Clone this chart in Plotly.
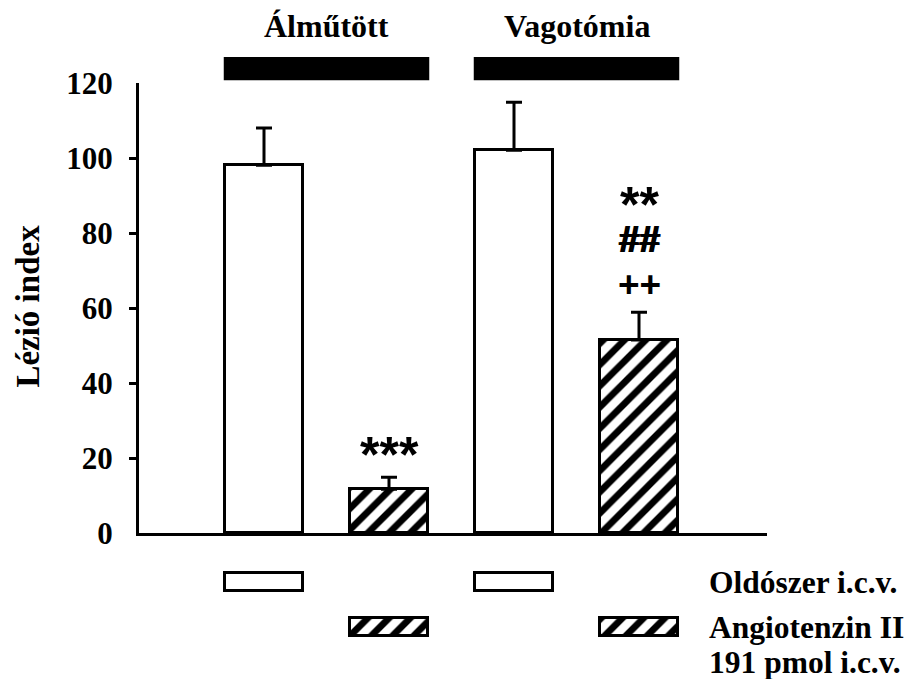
import plotly.graph_objects as go

# ---- data ----
groups = ["Álműtött", "Vagotómia"]
treatments = ["Oldószer i.c.v.", "Angiotenzin II", "191 pmol i.c.v."]
bar_pos = [1, 2, 3, 4]
bar_group = [0, 0, 1, 1]
bar_treatment = [0, 1, 0, 1]          # 0 = vehicle, 1 = angiotensin II
means = [98.1, 11.7, 102.1, 51.5]
sem = [9.9, 3.2, 12.8, 7.4]
sig_marks = [[], ["***"], [], ["**", "##", "++"]]
y_ticks = [0, 20, 40, 60, 80, 100, 120]

BAR_W = 0.624
serif = "Liberation Serif"
sans = "Liberation Sans"
patterns = ["" if t == 0 else "/" for t in bar_treatment]
pattern_style = dict(shape=patterns, fgcolor="black", bgcolor="white", fgopacity=1,
                     size=15, solidity=0.45, fillmode="replace")

fig = go.Figure()

fig.add_trace(go.Bar(
    x=bar_pos, y=means, width=BAR_W,
    marker=dict(color="white", line=dict(color="black", width=3), pattern=pattern_style),
    error_y=dict(type="data", array=sem, arrayminus=[0] * len(sem), symmetric=False,
                 color="black", thickness=3, width=8),
    xaxis="x", yaxis="y", showlegend=False, hoverinfo="skip",
))

# legend-like swatches under the bars
fig.add_trace(go.Bar(
    y=[1 - t for t in bar_treatment], x=[BAR_W] * 4,
    base=[p - BAR_W / 2 for p in bar_pos], orientation="h", width=0.4,
    marker=dict(color="white", line=dict(color="black", width=3), pattern=pattern_style),
    xaxis="x2", yaxis="y2", showlegend=False, hoverinfo="skip",
))

shapes = []
annotations = []
for gi, g in enumerate(groups):
    idx = [i for i, bg in enumerate(bar_group) if bg == gi]
    x0 = bar_pos[idx[0]] - BAR_W / 2 - 0.01
    x1 = bar_pos[idx[-1]] + BAR_W / 2 + 0.01
    shapes.append(dict(type="rect", xref="x", yref="y domain", x0=x0, x1=x1,
                       y0=1.006, y1=1.058, fillcolor="black", line=dict(width=0)))
    annotations.append(dict(text=g, xref="x", yref="y domain", x=(x0 + x1) / 2, y=1.127,
                            showarrow=False, xanchor="center", yanchor="middle",
                            font=dict(family=serif, size=32, color="black", weight="bold")))

shifts = {"***": 22, "**": 107, "##": 73, "++": 28}
sizes = {"***": 50, "**": 50, "##": 37, "++": 37}
for i, marks in enumerate(sig_marks):
    for m in marks:
        f = dict(family=sans, size=sizes[m], color="black", weight="bold")
        if m == "##":
            f["shadow"] = "1px 0 0 black, -1px 0 0 black"
        annotations.append(dict(text=m, xref="x", yref="y", x=bar_pos[i], y=means[i] + sem[i],
                                yshift=shifts[m], showarrow=False, xanchor="center",
                                yanchor="middle", font=f))

# right-side labels
lab_font = dict(family=serif, size=31.5, color="black", weight="bold")
annotations.append(dict(text=treatments[0], xref="paper", yref="y2", x=0.9045, y=1,
                        showarrow=False, xanchor="left", yanchor="middle", font=lab_font))
annotations.append(dict(text=treatments[1], xref="paper", yref="y2", x=0.9045, y=0,
                        showarrow=False, xanchor="left", yanchor="middle", font=lab_font))
annotations.append(dict(text=treatments[2], xref="paper", yref="y2", x=0.9045, y=0, yshift=-35,
                        showarrow=False, xanchor="left", yanchor="middle", font=lab_font))

# y title
annotations.append(dict(text="Lézió index", xref="x domain", yref="y domain", x=-0.177, y=0.505,
                        textangle=-90, showarrow=False, xanchor="center", yanchor="middle",
                        font=dict(family=serif, size=33, color="black", weight="bold")))

fig.update_layout(
    width=904, height=679,
    margin=dict(l=139, r=137, t=83, b=25),
    paper_bgcolor="white", plot_bgcolor="white",
    bargap=0,
    shapes=shapes, annotations=annotations,
    xaxis=dict(range=[0, 5.024], showline=True, linewidth=3, linecolor="black",
               showticklabels=False, ticks="", showgrid=False, zeroline=False,
               anchor="y", fixedrange=True),
    xaxis2=dict(range=[0, 5.024], visible=False, anchor="y2", matches="x"),
    yaxis=dict(domain=[0.2049, 1], range=[0, 120], tickvals=y_ticks,
               ticktext=[str(v) for v in y_ticks],
               showline=True, linewidth=3, linecolor="black", ticks="",
               ticklabelstandoff=17,
               minor=dict(tickvals=y_ticks[1:-1], ticks="outside", ticklen=7,
                          tickwidth=3, tickcolor="black", showgrid=False),
               tickfont=dict(family=serif, size=31, color="black", weight="bold"),
               showgrid=False, zeroline=False, anchor="x"),
    yaxis2=dict(domain=[0, 0.1751], range=[-0.483, 1.714], visible=False, anchor="x2"),
)

fig.write_html("out.html", config={"displayModeBar": False},
               post_script="document.body.style.margin='0px';document.body.style.overflow='hidden';")
